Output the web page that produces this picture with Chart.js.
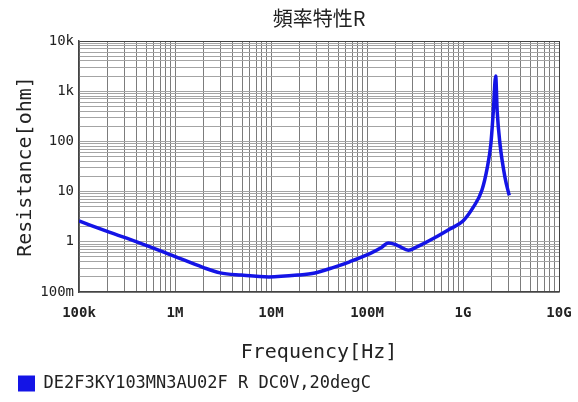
<!DOCTYPE html>
<html>
<head>
    <title>頻率特性R</title>
    <script src="https://cdn.jsdelivr.net/npm/chart.js"></script>
    <style>
        body {
            margin: 0;
            background: #fff;
        }
    </style>
</head>
<body>
    <canvas id="freqChart" width="578" height="402"></canvas>

    <script>
        // Values
        const freqHz = [1e5, 2.1e5, 4e5, 9.75e5, 1.95e6, 2.95e6, 4.9e6, 9.5e6, 1.9e7, 2.87e7, 4.5e7, 6.6e7,
            1.07e8, 1.4e8, 1.67e8, 1.96e8, 2.2e8, 2.7e8, 3.3e8, 4.9e8, 7.3e8, 1e9, 1.28e9, 1.57e9,
            1.79e9, 1.95e9, 2.07e9, 2.19e9, 2.27e9, 2.43e9, 2.74e9, 3.03e9];
        const resistanceOhm = [2.6, 1.54, 1.0, 0.52, 0.31, 0.24, 0.217, 0.2, 0.217, 0.24, 0.31, 0.4,
            0.58, 0.76, 0.95, 0.89, 0.8, 0.68, 0.79, 1.16, 1.8, 2.6, 4.9, 10.5,
            30, 88, 400, 2000, 400, 88, 19, 8.4];

        const xDecades = [1e5, 1e6, 1e7, 1e8, 1e9, 1e10];
        const xTickLabels = ['100k', '1M', '10M', '100M', '1G', '10G'];
        const yDecades = [0.1, 1, 10, 100, 1000, 10000];
        const yTickLabels = ['100m', '1', '10', '100', '1k', '10k'];

        const seriesLabel = 'DE2F3KY103MN3AU02F R DC0V,20degC';
        const lineColor = '#1414e6';

        // decade ticks plus 2..9 in between, for the log grid
        function logTicks(decades) {
            const out = [];
            decades.forEach((d, i) => {
                out.push({ value: d });
                if (i < decades.length - 1) {
                    for (let m = 2; m <= 9; m++) out.push({ value: d * m });
                }
            });
            return out;
        }

        function decadeLabel(decades, labels, value) {
            const i = decades.findIndex(d => Math.abs(d - value) / d < 1e-6);
            return i >= 0 ? labels[i] : '';
        }

        const ctx = document.getElementById('freqChart').getContext('2d');
        const chart = new Chart(ctx, {
            type: 'line',
            data: {
                datasets: [{
                    label: seriesLabel,
                    data: freqHz.map((f, i) => ({ x: f, y: resistanceOhm[i] })),
                    borderColor: lineColor,
                    backgroundColor: lineColor,
                    borderWidth: 3.5,
                    borderJoinStyle: 'round',
                    pointRadius: 0,
                    cubicInterpolationMode: 'monotone',
                    fill: false
                }]
            },
            options: {
                responsive: false,
                animation: false,
                layout: {
                    padding: { left: 0, right: 19, top: 0, bottom: 0 }
                },
                scales: {
                    x: {
                        type: 'logarithmic',
                        min: 1e5,
                        max: 1e10,
                        afterBuildTicks: scale => { scale.ticks = logTicks(xDecades); },
                        afterFit: scale => { scale.height = 65; },
                        ticks: {
                            autoSkip: false,
                            maxRotation: 0,
                            padding: 3,
                            color: '#222',
                            font: { family: 'DejaVu Sans Mono', size: 14, weight: 'bold' },
                            callback: value => decadeLabel(xDecades, xTickLabels, value)
                        },
                        grid: {
                            drawTicks: true,
                            tickLength: 10,
                            tickColor: 'rgba(0,0,0,0)',
                            lineWidth: 1,
                            color: c => (c.tick && c.tick.value === 1e10) ? '#444' : '#7c7c7c'
                        },
                        border: { display: true, color: '#444', width: 1.5 },
                        title: {
                            display: true,
                            text: 'Frequency[Hz]',
                            color: '#222',
                            padding: { top: 0, bottom: -8 },
                            font: { family: 'DejaVu Sans Mono', size: 20 }
                        }
                    },
                    y: {
                        type: 'logarithmic',
                        min: 0.1,
                        max: 10000,
                        afterBuildTicks: scale => { scale.ticks = logTicks(yDecades); },
                        afterFit: scale => { scale.width = 79; },
                        ticks: {
                            autoSkip: false,
                            padding: 5,
                            color: '#222',
                            font: { family: 'DejaVu Sans Mono', size: 14 },
                            callback: value => decadeLabel(yDecades, yTickLabels, value)
                        },
                        grid: {
                            drawTicks: false,
                            lineWidth: 1,
                            color: c => (c.tick && c.tick.value === 10000) ? '#444' : '#a4a4a4'
                        },
                        border: { display: true, color: '#444', width: 1.5 },
                        title: {
                            display: true,
                            text: 'Resistance[ohm]',
                            color: '#222',
                            padding: { top: 14, bottom: 0 },
                            font: { family: 'DejaVu Sans Mono', size: 20 }
                        }
                    }
                },
                plugins: {
                    title: {
                        display: true,
                        fullSize: false,
                        text: '頻率特性R',
                        color: '#222',
                        padding: { top: 6, bottom: 11 },
                        font: { family: 'Noto Sans CJK JP', size: 20, weight: 'normal' }
                    },
                    legend: {
                        display: true,
                        position: 'bottom',
                        align: 'start',
                        labels: {
                            boxWidth: 17,
                            boxHeight: 16,
                            padding: 18,
                            color: '#222',
                            font: { family: 'DejaVu Sans Mono', size: 17 },
                            generateLabels: c => Chart.defaults.plugins.legend.labels.generateLabels(c)
                                .map(item => Object.assign(item, { lineWidth: 0 }))
                        }
                    },
                    tooltip: { enabled: false }
                }
            }
        });
    </script>
</body>
</html>
